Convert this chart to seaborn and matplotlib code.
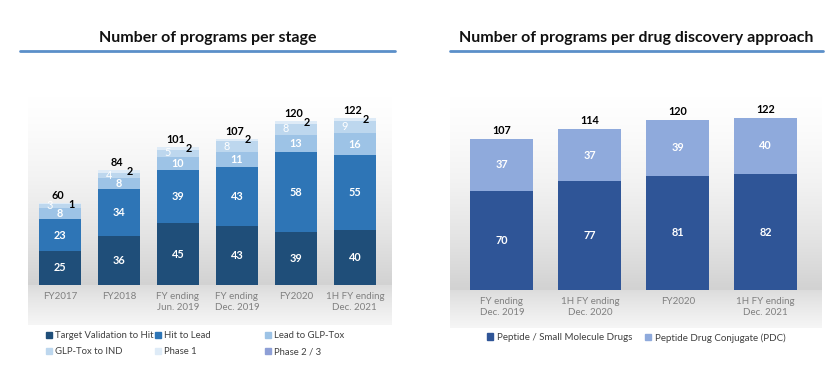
import numpy as np
import matplotlib
matplotlib.use("Agg")
import matplotlib.pyplot as plt
from matplotlib.patches import Patch
from matplotlib.colors import LinearSegmentedColormap
import seaborn as sns

# ---- data ----
stage_periods = ["FY2017", "FY2018", "FY ending\nJun. 2019", "FY ending\nDec. 2019",
                 "FY2020", "1H FY ending\nDec. 2021"]
stage_names = ["Target Validation to Hit", "Hit to Lead", "Lead to GLP-Tox",
               "GLP-Tox to IND", "Phase 1", "Phase 2 / 3"]
target_to_hit = [25, 36, 45, 43, 39, 40]
hit_to_lead = [23, 34, 39, 43, 58, 55]
lead_to_glp = [8, 8, 10, 11, 13, 16]
glp_to_ind = [3, 4, 5, 8, 8, 9]
phase1 = [1, 2, 2, 2, 2, 2]
phase23 = [0, 0, 0, 0, 0, 0]

approach_periods = ["FY ending\nDec. 2019", "1H FY ending\nDec. 2020", "FY2020",
                    "1H FY ending\nDec. 2021"]
approach_names = ["Peptide / Small Molecule Drugs", "Peptide Drug Conjugate (PDC)"]
small_molecule = [70, 77, 81, 82]
pdc = [37, 37, 39, 40]

stage_colors = ["#1f4e79", "#2e75b6", "#9dc3e6", "#bdd7ee", "#deebf7", "#8e9fd6"]
approach_colors = ["#2f5597", "#8faadc"]

sns.set_theme(style="white")
plt.rcParams["font.family"] = ["Lato", "DejaVu Sans"]

W, H = 831, 374
fig = plt.figure(figsize=(W / 100, H / 100), dpi=100)


def px_axes(x0, y0, x1, y1, **kw):
    return fig.add_axes([x0 / W, 1 - y1 / H, (x1 - x0) / W, (y1 - y0) / H], **kw)


bg_cmap = LinearSegmentedColormap.from_list("bg", ["#ffffff", "#f3f3f3", "#e4e4e4", "#d2d2d2"])
band_cmap = LinearSegmentedColormap.from_list("band", ["#dcdcdc", "#e6e6e6", "#eeeeee", "#f6f6f6"])


def background(ax):
    grad = np.linspace(0, 1, 200).reshape(-1, 1) ** 1.3
    ax.imshow(grad, extent=[0, 1, 0, 1], transform=ax.transAxes, aspect="auto",
              cmap=bg_cmap, zorder=0)


def band(x0, y0, x1, y1):
    b = px_axes(x0, y0, x1, y1, zorder=0)
    grad = np.linspace(0, 1, 100).reshape(-1, 1)
    b.imshow(grad, extent=[0, 1, 0, 1], aspect="auto", cmap=band_cmap)
    b.set_axis_off()


def title(x0, x1, y, text):
    fig.text((x0 + x1) / 2 / W, 1 - y / H, text, ha="center", va="center",
             fontsize=11.5, fontweight="bold", color="#111111")
    fig.add_artist(plt.Line2D([x0 / W, x1 / W], [1 - 51 / H] * 2, color="#5b8fc9", lw=2))


def stacked(ax, cats, layers, colors, width):
    cums = np.cumsum(np.array(layers), axis=0)
    for cum, col in zip(cums[::-1], colors[::-1]):
        sns.barplot(x=cats, y=cum, color=col, width=width, saturation=1,
                    linewidth=0, ax=ax, zorder=2)
    return cums


def style_axes(ax, xlim, ylim):
    ax.set_xlim(*xlim)
    ax.set_ylim(*ylim)
    ax.set_yticks([])
    ax.set_ylabel("")
    for s in ax.spines.values():
        s.set_visible(False)
    ax.tick_params(axis="x", length=0, pad=5, labelsize=7, labelcolor="#808080")
    for t in ax.get_xticklabels():
        t.set_linespacing(1.35)


leg_kw = dict(frameon=False, handlelength=0.65, handleheight=0.65,
              handletextpad=0.35, labelcolor="#404040", labelspacing=0.75,
              borderpad=0, borderaxespad=0, loc="upper left")

# ---- left chart ----
title(20, 395, 38, "Number of programs per stage")
band(28, 285, 392, 325)
ax1 = px_axes(28, 95, 392, 285)
background(ax1)
layers1 = [target_to_hit, hit_to_lead, lead_to_glp, glp_to_ind, phase1, phase23]
cums1 = stacked(ax1, stage_periods, layers1, stage_colors, 0.71)
style_axes(ax1, (-0.54, 5.63), (0, 139))

lab = dict(ha="center", va="center", fontsize=7.8, fontweight="bold", zorder=5)
for i in range(len(stage_periods)):
    for k in range(3):
        bottom = cums1[k - 1][i] if k else 0
        ax1.text(i, bottom + layers1[k][i] / 2, str(layers1[k][i]), color="white", **lab)
    ax1.text(i - 0.17, cums1[2][i] + glp_to_ind[i] / 2 + 0.3, str(glp_to_ind[i]),
             color="white", **{**lab, "fontweight": "normal"})
    ax1.text(i + 0.19, cums1[4][i] - 0.8, str(phase1[i]), color="black", **lab)
    ax1.text(i - 0.03, cums1[5][i] + 5.5, str(cums1[5][i]), color="black", **lab)

hs = [Patch(color=c) for c in stage_colors]
for col, x in enumerate([46, 155, 265]):
    fig.legend([hs[col], hs[col + 3]], [stage_names[col], stage_names[col + 3]],
               bbox_to_anchor=(x / W, 1 - 331 / H), fontsize=6.8, **leg_kw)

# ---- right chart ----
title(450, 823, 38, "Number of programs per drug discovery approach")
band(450, 290, 822, 328)
ax2 = px_axes(450, 95, 822, 290)
background(ax2)
layers2 = [small_molecule, pdc]
cums2 = stacked(ax2, approach_periods, layers2, approach_colors, 0.716)
style_axes(ax2, (-0.59, 3.64), (0, 138))
for i in range(len(approach_periods)):
    for k in range(2):
        bottom = cums2[k - 1][i] if k else 0
        ax2.text(i, bottom + layers2[k][i] / 2, str(layers2[k][i]), color="white", **lab)
    ax2.text(i, cums2[1][i] + 6, str(cums2[1][i]), color="black", **lab)

hs2 = [Patch(color=c) for c in approach_colors]
for k, x in enumerate([487, 645]):
    fig.legend([hs2[k]], [approach_names[k]], fontsize=7,
               bbox_to_anchor=(x / W, 1 - 333 / H), **leg_kw)

fig.savefig("out.png", dpi=100)
